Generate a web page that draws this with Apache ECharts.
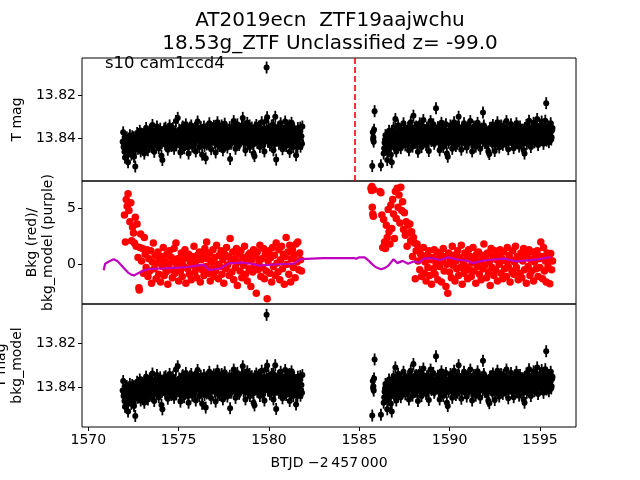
<!DOCTYPE html>
<html><head><meta charset="utf-8">
<script src="https://cdn.jsdelivr.net/npm/echarts@6/dist/echarts.min.js"></script>
<style>html,body{margin:0;padding:0;background:#fff}#c{width:640px;height:480px}</style>
</head><body><div id="c"></div>
<script>
// ---- data (BTJD - 2457000, T mag) ----
const tmagSeg1 = [[1571.90,13.8415],[1571.95,13.8440],[1572.00,13.8462],[1572.05,13.8398],[1572.10,13.8430],[1572.15,13.8475],[1572.20,13.8510],[1572.25,13.8420],[1572.30,13.8385],[1572.35,13.8452],[1572.40,13.8410],[1572.45,13.8468],[1572.50,13.8395],[1572.55,13.8438],[1572.60,13.8530],[1572.65,13.8402],[1572.70,13.8375],[1572.75,13.8448],[1572.80,13.8420],[1572.85,13.8365],[1572.90,13.8460],[1572.95,13.8412],[1573.00,13.8380],[1573.05,13.8435],[1573.10,13.8470],[1573.15,13.8398],[1573.20,13.8352],[1573.25,13.8425],[1573.30,13.8455],[1573.35,13.8390],[1573.40,13.8360],[1573.45,13.8418],[1573.50,13.8440],[1573.55,13.8338],[1573.60,13.8405],[1573.65,13.8462],[1573.70,13.8385],[1573.75,13.8420],[1573.80,13.8345],[1573.85,13.8398],[1573.90,13.8445],[1573.95,13.8372],[1574.00,13.8410],[1574.05,13.8480],[1574.10,13.8500],[1574.15,13.8392],[1574.20,13.8355],[1574.25,13.8428],[1574.30,13.8370],[1574.35,13.8415],[1574.40,13.8452],[1574.45,13.8380],[1574.50,13.8340],[1574.55,13.8405],[1574.60,13.8435],[1574.65,13.8362],[1574.70,13.8398],[1574.75,13.8448],[1574.80,13.8375],[1574.85,13.8320],[1574.90,13.8410],[1574.95,13.8305],[1575.00,13.8388],[1575.05,13.8430],[1575.10,13.8465],[1575.15,13.8372],[1575.20,13.8350],[1575.25,13.8412],[1575.30,13.8445],[1575.35,13.8380],[1575.40,13.8335],[1575.45,13.8398],[1575.50,13.8425],[1575.55,13.8470],[1575.60,13.8365],[1575.65,13.8402],[1575.70,13.8340],[1575.75,13.8438],[1575.80,13.8385],[1575.85,13.8415],[1575.90,13.8352],[1575.95,13.8460],[1576.00,13.8395],[1576.05,13.8322],[1576.10,13.8408],[1576.15,13.8440],[1576.20,13.8370],[1576.25,13.8418],[1576.30,13.8475],[1576.35,13.8385],[1576.40,13.8345],[1576.45,13.8400],[1576.50,13.8492],[1576.55,13.8428],[1576.60,13.8362],[1576.65,13.8395],[1576.70,13.8330],[1576.75,13.8415],[1576.80,13.8450],[1576.85,13.8378],[1576.90,13.8405],[1576.95,13.8342],[1577.00,13.8420],[1577.05,13.8465],[1577.10,13.8388],[1577.15,13.8325],[1577.20,13.8398],[1577.25,13.8435],[1577.30,13.8372],[1577.35,13.8410],[1577.40,13.8348],[1577.45,13.8455],[1577.50,13.8390],[1577.55,13.8332],[1577.60,13.8415],[1577.65,13.8378],[1577.70,13.8442],[1577.75,13.8360],[1577.80,13.8400],[1577.85,13.8495],[1577.90,13.8425],[1577.95,13.8355],[1578.00,13.8388],[1578.05,13.8320],[1578.10,13.8410],[1578.15,13.8448],[1578.20,13.8370],[1578.25,13.8335],[1578.30,13.8402],[1578.35,13.8430],[1578.40,13.8362],[1578.45,13.8395],[1578.50,13.8340],[1578.55,13.8305],[1578.60,13.8418],[1578.65,13.8375],[1578.70,13.8455],[1578.75,13.8388],[1578.80,13.8328],[1578.85,13.8405],[1578.90,13.8362],[1578.95,13.8440],[1579.00,13.8395],[1579.05,13.8350],[1579.10,13.8412],[1579.15,13.8470],[1579.20,13.8482],[1579.25,13.8380],[1579.30,13.8338],[1579.35,13.8420],[1579.40,13.8365],[1579.45,13.8398],[1579.50,13.8440],[1579.55,13.8355],[1579.60,13.8325],[1579.65,13.8408],[1579.70,13.8375],[1579.75,13.8460],[1579.80,13.8390],[1579.85,13.8318],[1579.87,13.8072],[1579.90,13.8302],[1579.95,13.8415],[1580.00,13.8368],[1580.05,13.8432],[1580.10,13.8385],[1580.15,13.8340],[1580.20,13.8410],[1580.25,13.8455],[1580.30,13.8372],[1580.35,13.8300],[1580.40,13.8498],[1580.45,13.8395],[1580.50,13.8350],[1580.55,13.8425],[1580.60,13.8378],[1580.65,13.8330],[1580.70,13.8412],[1580.75,13.8450],[1580.80,13.8365],[1580.85,13.8398],[1580.90,13.8322],[1580.95,13.8435],[1581.00,13.8380],[1581.05,13.8345],[1581.10,13.8418],[1581.15,13.8462],[1581.20,13.8370],[1581.25,13.8328],[1581.30,13.8405],[1581.35,13.8440],[1581.40,13.8358],[1581.45,13.8395],[1581.50,13.8478],[1581.55,13.8422],[1581.60,13.8352],[1581.65,13.8410],[1581.70,13.8375],[1581.75,13.8438],[1581.80,13.8390],[1581.85,13.8345]];
const tmagSeg1b = [[1571.93,13.8372],[1571.98,13.8425],[1572.03,13.8488],[1572.08,13.8452],[1572.13,13.8395],[1572.18,13.8440],[1572.23,13.8462],[1572.28,13.8408],[1572.33,13.8430],[1572.38,13.8475],[1572.43,13.8390],[1572.48,13.8422],[1572.53,13.8485],[1572.58,13.8415],[1572.63,13.8450],[1572.68,13.8398],[1572.73,13.8420],[1572.78,13.8382],[1572.83,13.8440],[1572.88,13.8405],[1572.93,13.8378],[1572.98,13.8428],[1573.03,13.8395],[1573.08,13.8415],[1573.13,13.8368],[1573.18,13.8440],[1573.23,13.8392],[1573.28,13.8375],[1573.33,13.8420],[1573.38,13.8402],[1573.43,13.8365],[1573.48,13.8395],[1573.53,13.8412],[1573.58,13.8430],[1573.63,13.8380],[1573.68,13.8415],[1573.73,13.8362],[1573.78,13.8398],[1573.83,13.8425],[1573.88,13.8388],[1573.93,13.8408],[1573.98,13.8355],[1574.03,13.8392],[1574.08,13.8420],[1574.13,13.8375],[1574.18,13.8405],[1574.23,13.8388],[1574.28,13.8350],[1574.33,13.8398],[1574.38,13.8418],[1574.43,13.8365],[1574.48,13.8392],[1574.53,13.8425],[1574.58,13.8378],[1574.63,13.8400],[1574.68,13.8352],[1574.73,13.8415],[1574.78,13.8390],[1574.83,13.8368],[1574.88,13.8432],[1574.93,13.8382],[1574.98,13.8405],[1575.03,13.8360],[1575.08,13.8395],[1575.13,13.8420],[1575.18,13.8388],[1575.23,13.8345],[1575.28,13.8402],[1575.33,13.8375],[1575.38,13.8418],[1575.43,13.8362],[1575.48,13.8390],[1575.53,13.8440],[1575.58,13.8395],[1575.63,13.8350],[1575.68,13.8412],[1575.73,13.8380],[1575.78,13.8358],[1575.83,13.8400],[1575.88,13.8425],[1575.93,13.8372],[1575.98,13.8345],[1576.03,13.8390],[1576.08,13.8365],[1576.13,13.8412],[1576.18,13.8395],[1576.23,13.8348],[1576.28,13.8420],[1576.33,13.8372],[1576.38,13.8398],[1576.43,13.8435],[1576.48,13.8378],[1576.53,13.8355],[1576.58,13.8405],[1576.63,13.8425],[1576.68,13.8382],[1576.73,13.8360],[1576.78,13.8398],[1576.83,13.8415],[1576.88,13.8352],[1576.93,13.8388],[1576.98,13.8372],[1577.03,13.8410],[1577.08,13.8345],[1577.13,13.8395],[1577.18,13.8428],[1577.23,13.8365],[1577.28,13.8402],[1577.33,13.8385],[1577.38,13.8340],[1577.43,13.8412],[1577.48,13.8368],[1577.53,13.8395],[1577.58,13.8430],[1577.63,13.8352],[1577.68,13.8390],[1577.73,13.8405],[1577.78,13.8372],[1577.83,13.8348],[1577.88,13.8395],[1577.93,13.8418],[1577.98,13.8365],[1578.03,13.8400],[1578.08,13.8380],[1578.13,13.8342],[1578.18,13.8412],[1578.23,13.8388],[1578.28,13.8360],[1578.33,13.8395],[1578.38,13.8422],[1578.43,13.8375],[1578.48,13.8405],[1578.53,13.8352],[1578.58,13.8385],[1578.63,13.8345],[1578.68,13.8410],[1578.73,13.8368],[1578.78,13.8398],[1578.83,13.8425],[1578.88,13.8380],[1578.93,13.8340],[1578.98,13.8402],[1579.03,13.8372],[1579.08,13.8392],[1579.13,13.8428],[1579.18,13.8365],[1579.23,13.8350],[1579.28,13.8405],[1579.33,13.8385],[1579.38,13.8418],[1579.43,13.8345],[1579.48,13.8378],[1579.53,13.8402],[1579.58,13.8368],[1579.63,13.8390],[1579.68,13.8430],[1579.73,13.8355],[1579.78,13.8412],[1579.83,13.8372],[1579.93,13.8392],[1579.98,13.8348],[1580.03,13.8405],[1580.08,13.8365],[1580.13,13.8420],[1580.18,13.8380],[1580.23,13.8338],[1580.28,13.8398],[1580.33,13.8425],[1580.38,13.8360],[1580.43,13.8410],[1580.48,13.8375],[1580.53,13.8395],[1580.58,13.8345],[1580.63,13.8418],[1580.68,13.8382],[1580.73,13.8358],[1580.78,13.8400],[1580.83,13.8432],[1580.88,13.8370],[1580.93,13.8392],[1580.98,13.8348],[1581.03,13.8410],[1581.08,13.8385],[1581.13,13.8340],[1581.18,13.8402],[1581.23,13.8428],[1581.28,13.8368],[1581.33,13.8390],[1581.38,13.8352],[1581.43,13.8415],[1581.48,13.8378],[1581.53,13.8398],[1581.58,13.8440],[1581.63,13.8365],[1581.68,13.8392],[1581.73,13.8350],[1581.78,13.8412],[1581.83,13.8425]];
const tmagSeg2 = [[1585.72,13.8528],[1585.75,13.8372],[1585.78,13.8395],[1585.80,13.8415],[1585.82,13.8360],[1585.85,13.8274],[1586.20,13.8524],[1586.35,13.8470],[1586.40,13.8420],[1586.45,13.8385],[1586.50,13.8450],[1586.55,13.8500],[1586.60,13.8405],[1586.65,13.8365],[1586.70,13.8432],[1586.75,13.8475],[1586.80,13.8510],[1586.85,13.8390],[1586.90,13.8350],[1586.95,13.8418],[1587.00,13.8310],[1587.05,13.8460],[1587.10,13.8395],[1587.15,13.8340],[1587.20,13.8425],[1587.25,13.8378],[1587.30,13.8445],[1587.35,13.8360],[1587.40,13.8408],[1587.45,13.8330],[1587.50,13.8390],[1587.55,13.8432],[1587.60,13.8365],[1587.65,13.8412],[1587.70,13.8350],[1587.75,13.8455],[1587.80,13.8380],[1587.85,13.8325],[1587.90,13.8402],[1587.95,13.8438],[1588.00,13.8295],[1588.05,13.8372],[1588.10,13.8410],[1588.15,13.8345],[1588.20,13.8420],[1588.25,13.8462],[1588.30,13.8385],[1588.35,13.8330],[1588.40,13.8398],[1588.45,13.8440],[1588.50,13.8362],[1588.55,13.8315],[1588.60,13.8405],[1588.65,13.8378],[1588.70,13.8430],[1588.75,13.8350],[1588.80,13.8395],[1588.85,13.8458],[1588.90,13.8368],[1588.95,13.8320],[1589.00,13.8412],[1589.05,13.8375],[1589.10,13.8335],[1589.15,13.8425],[1589.25,13.8260],[1589.30,13.8385],[1589.35,13.8348],[1589.40,13.8418],[1589.45,13.8455],[1589.50,13.8370],[1589.55,13.8328],[1589.60,13.8402],[1589.65,13.8440],[1589.70,13.8362],[1589.75,13.8395],[1589.80,13.8335],[1589.85,13.8470],[1589.90,13.8485],[1589.95,13.8420],[1590.00,13.8378],[1590.05,13.8340],[1590.10,13.8410],[1590.15,13.8448],[1590.20,13.8365],[1590.25,13.8325],[1590.30,13.8400],[1590.35,13.8435],[1590.40,13.8372],[1590.45,13.8345],[1590.50,13.8300],[1590.55,13.8415],[1590.60,13.8388],[1590.65,13.8452],[1590.70,13.8360],[1590.75,13.8398],[1590.80,13.8330],[1590.85,13.8425],[1590.90,13.8375],[1590.95,13.8442],[1591.00,13.8350],[1591.05,13.8405],[1591.10,13.8368],[1591.15,13.8320],[1591.20,13.8418],[1591.25,13.8460],[1591.30,13.8385],[1591.35,13.8345],[1591.40,13.8400],[1591.45,13.8438],[1591.50,13.8362],[1591.55,13.8328],[1591.60,13.8410],[1591.65,13.8375],[1591.70,13.8448],[1591.75,13.8355],[1591.80,13.8392],[1591.85,13.8280],[1591.90,13.8340],[1591.95,13.8420],[1592.00,13.8370],[1592.05,13.8435],[1592.10,13.8385],[1592.15,13.8462],[1592.20,13.8472],[1592.25,13.8402],[1592.30,13.8350],[1592.35,13.8415],[1592.40,13.8338],[1592.45,13.8380],[1592.50,13.8458],[1592.55,13.8425],[1592.60,13.8365],[1592.65,13.8325],[1592.70,13.8408],[1592.75,13.8442],[1592.80,13.8372],[1592.85,13.8340],[1592.90,13.8398],[1592.95,13.8430],[1593.00,13.8355],[1593.05,13.8412],[1593.10,13.8378],[1593.15,13.8320],[1593.20,13.8405],[1593.25,13.8450],[1593.30,13.8368],[1593.35,13.8395],[1593.40,13.8335],[1593.45,13.8422],[1593.50,13.8380],[1593.55,13.8445],[1593.60,13.8358],[1593.65,13.8400],[1593.70,13.8330],[1593.75,13.8415],[1593.80,13.8372],[1593.85,13.8438],[1593.90,13.8345],[1593.95,13.8392],[1594.00,13.8425],[1594.05,13.8360],[1594.10,13.8455],[1594.15,13.8470],[1594.20,13.8398],[1594.25,13.8338],[1594.30,13.8410],[1594.35,13.8375],[1594.40,13.8318],[1594.45,13.8402],[1594.50,13.8440],[1594.55,13.8365],[1594.60,13.8395],[1594.65,13.8328],[1594.70,13.8418],[1594.75,13.8355],[1594.80,13.8385],[1594.85,13.8310],[1594.90,13.8430],[1594.95,13.8370],[1595.00,13.8340],[1595.05,13.8405],[1595.10,13.8322],[1595.15,13.8390],[1595.20,13.8425],[1595.25,13.8355],[1595.30,13.8318],[1595.35,13.8237],[1595.40,13.8398],[1595.45,13.8345],[1595.50,13.8418],[1595.55,13.8365],[1595.60,13.8330],[1595.65,13.8395],[1595.70,13.8352]];
const tmagSeg2b = [[1585.77,13.8405],[1586.38,13.8445],[1586.43,13.8405],[1586.48,13.8428],[1586.53,13.8392],[1586.58,13.8460],[1586.63,13.8418],[1586.68,13.8380],[1586.73,13.8440],[1586.78,13.8412],[1586.83,13.8365],[1586.88,13.8425],[1586.93,13.8392],[1586.98,13.8445],[1587.03,13.8372],[1587.08,13.8415],[1587.13,13.8388],[1587.18,13.8430],[1587.23,13.8355],[1587.28,13.8402],[1587.33,13.8420],[1587.38,13.8378],[1587.43,13.8395],[1587.48,13.8418],[1587.53,13.8362],[1587.58,13.8398],[1587.63,13.8380],[1587.68,13.8422],[1587.73,13.8370],[1587.78,13.8405],[1587.83,13.8348],[1587.88,13.8390],[1587.93,13.8412],[1587.98,13.8365],[1588.03,13.8395],[1588.08,13.8350],[1588.13,13.8420],[1588.18,13.8378],[1588.23,13.8400],[1588.28,13.8355],[1588.33,13.8412],[1588.38,13.8372],[1588.43,13.8390],[1588.48,13.8425],[1588.53,13.8345],[1588.58,13.8385],[1588.63,13.8410],[1588.68,13.8362],[1588.73,13.8395],[1588.78,13.8418],[1588.83,13.8350],[1588.88,13.8388],[1588.93,13.8405],[1588.98,13.8370],[1589.03,13.8342],[1589.08,13.8398],[1589.13,13.8380],[1589.18,13.8415],[1589.22,13.8365],[1589.28,13.8402],[1589.33,13.8375],[1589.38,13.8352],[1589.43,13.8395],[1589.48,13.8425],[1589.53,13.8360],[1589.58,13.8388],[1589.63,13.8410],[1589.68,13.8345],[1589.73,13.8402],[1589.78,13.8378],[1589.83,13.8420],[1589.88,13.8395],[1589.93,13.8365],[1589.98,13.8405],[1590.03,13.8385],[1590.08,13.8350],[1590.13,13.8412],[1590.18,13.8392],[1590.23,13.8372],[1590.28,13.8418],[1590.33,13.8355],[1590.38,13.8398],[1590.43,13.8425],[1590.48,13.8368],[1590.53,13.8348],[1590.58,13.8402],[1590.63,13.8380],[1590.68,13.8415],[1590.73,13.8352],[1590.78,13.8390],[1590.83,13.8408],[1590.88,13.8362],[1590.93,13.8395],[1590.98,13.8378],[1591.03,13.8345],[1591.08,13.8410],[1591.13,13.8388],[1591.18,13.8365],[1591.23,13.8400],[1591.28,13.8422],[1591.33,13.8355],[1591.38,13.8392],[1591.43,13.8372],[1591.48,13.8405],[1591.53,13.8345],[1591.58,13.8385],[1591.63,13.8418],[1591.68,13.8360],[1591.73,13.8398],[1591.78,13.8375],[1591.83,13.8412],[1591.88,13.8350],[1591.93,13.8392],[1591.98,13.8408],[1592.03,13.8365],[1592.08,13.8395],[1592.13,13.8420],[1592.18,13.8378],[1592.23,13.8352],[1592.28,13.8402],[1592.33,13.8385],[1592.38,13.8428],[1592.43,13.8360],[1592.48,13.8398],[1592.53,13.8375],[1592.58,13.8412],[1592.63,13.8348],[1592.68,13.8390],[1592.73,13.8405],[1592.78,13.8362],[1592.83,13.8395],[1592.88,13.8418],[1592.93,13.8370],[1592.98,13.8345],[1593.03,13.8400],[1593.08,13.8385],[1593.13,13.8422],[1593.18,13.8358],[1593.23,13.8392],[1593.28,13.8408],[1593.33,13.8372],[1593.38,13.8395],[1593.43,13.8350],[1593.48,13.8412],[1593.53,13.8380],[1593.58,13.8398],[1593.63,13.8365],[1593.68,13.8420],[1593.73,13.8375],[1593.78,13.8345],[1593.83,13.8402],[1593.88,13.8388],[1593.93,13.8415],[1593.98,13.8360],[1594.03,13.8395],[1594.08,13.8378],[1594.13,13.8410],[1594.18,13.8352],[1594.23,13.8392],[1594.28,13.8425],[1594.33,13.8365],[1594.38,13.8388],[1594.43,13.8348],[1594.48,13.8405],[1594.53,13.8380],[1594.58,13.8415],[1594.63,13.8358],[1594.68,13.8392],[1594.73,13.8372],[1594.78,13.8408],[1594.83,13.8345],[1594.88,13.8385],[1594.93,13.8400],[1594.98,13.8362],[1595.03,13.8378],[1595.08,13.8352],[1595.13,13.8395],[1595.18,13.8368],[1595.23,13.8340],[1595.28,13.8385],[1595.33,13.8360],[1595.38,13.8410],[1595.43,13.8372],[1595.48,13.8350],[1595.53,13.8392],[1595.58,13.8375],[1595.63,13.8405],[1595.68,13.8362]];
const bkgSeg1 = [[1572.00,4.4],[1572.05,2.0],[1572.10,5.8],[1572.15,5.2],[1572.20,6.3],[1572.25,4.8],[1572.30,3.8],[1572.35,5.5],[1572.40,2.1],[1572.45,3.3],[1572.50,2.8],[1572.55,1.9],[1572.60,4.2],[1572.65,1.6],[1572.70,3.6],[1572.75,0.6],[1572.80,-2.1],[1572.82,-2.3],[1572.85,1.5],[1572.90,2.7],[1572.95,0.3],[1573.00,1.4],[1573.05,-0.8],[1573.10,2.4],[1573.15,0.9],[1573.20,-0.3],[1573.25,1.3],[1573.30,-1.1],[1573.35,0.5],[1573.40,-0.6],[1573.45,1.2],[1573.50,-1.7],[1573.55,0.2],[1573.60,1.9],[1573.65,-0.4],[1573.70,0.8],[1573.75,-1.3],[1573.80,0.1],[1573.85,1.1],[1573.90,-0.9],[1573.95,0.4],[1574.00,-1.6],[1574.05,0.7],[1574.10,-0.2],[1574.15,1.5],[1574.20,-1.0],[1574.25,0.3],[1574.30,-0.7],[1574.35,0.9],[1574.40,-1.8],[1574.45,0.0],[1574.50,1.2],[1574.55,-0.5],[1574.60,0.6],[1574.65,-1.2],[1574.70,0.2],[1574.75,1.4],[1574.80,-0.8],[1574.85,1.9],[1574.90,-0.3],[1574.95,0.5],[1575.00,-1.5],[1575.05,0.1],[1575.10,-0.6],[1575.15,1.0],[1575.20,-1.1],[1575.25,0.4],[1575.30,-0.2],[1575.35,1.3],[1575.40,-1.7],[1575.45,0.6],[1575.50,-0.4],[1575.55,0.9],[1575.60,-0.9],[1575.65,0.2],[1575.70,-1.4],[1575.75,0.7],[1575.80,-0.1],[1575.85,1.6],[1575.90,-0.7],[1575.95,0.3],[1576.00,-1.2],[1576.05,0.8],[1576.10,-0.3],[1576.15,1.1],[1576.20,-1.6],[1576.25,0.4],[1576.30,-0.5],[1576.35,0.9],[1576.40,-1.0],[1576.45,1.4],[1576.50,-0.2],[1576.55,2.0],[1576.60,0.5],[1576.65,-0.8],[1576.70,1.0],[1576.75,-1.5],[1576.80,0.2],[1576.85,-0.4],[1576.90,1.3],[1576.95,-1.1],[1577.00,0.6],[1577.05,-0.6],[1577.10,1.7],[1577.15,0.0],[1577.20,-1.3],[1577.25,0.8],[1577.30,-0.2],[1577.35,1.2],[1577.40,-0.9],[1577.45,0.4],[1577.50,-1.7],[1577.55,0.9],[1577.60,-0.4],[1577.65,1.5],[1577.70,-0.1],[1577.75,0.7],[1577.80,-1.0],[1577.85,2.3],[1577.90,0.3],[1577.95,-0.7],[1578.00,1.1],[1578.05,-1.4],[1578.10,0.5],[1578.15,-0.3],[1578.20,1.4],[1578.25,-1.9],[1578.30,0.2],[1578.35,0.9],[1578.40,-0.6],[1578.45,1.2],[1578.50,-1.2],[1578.55,0.6],[1578.60,-0.1],[1578.65,1.6],[1578.70,-0.9],[1578.75,0.3],[1578.80,-1.5],[1578.85,0.8],[1578.90,-0.4],[1578.95,1.0],[1579.00,-2.0],[1579.05,0.4],[1579.10,-0.7],[1579.15,1.3],[1579.20,-0.2],[1579.25,0.7],[1579.30,-2.6],[1579.35,1.1],[1579.40,-0.5],[1579.45,0.2],[1579.50,1.7],[1579.55,-1.1],[1579.60,0.5],[1579.65,-0.3],[1579.70,1.4],[1579.75,-1.3],[1579.80,0.9],[1579.85,-0.6],[1579.90,-3.1],[1579.95,0.3],[1580.00,1.2],[1580.05,-0.8],[1580.10,0.6],[1580.15,-1.6],[1580.20,1.5],[1580.25,-0.2],[1580.30,0.8],[1580.35,-1.0],[1580.40,1.9],[1580.45,0.1],[1580.50,-0.7],[1580.55,1.3],[1580.60,-1.4],[1580.65,0.4],[1580.70,1.6],[1580.75,-0.4],[1580.80,0.9],[1580.85,-1.8],[1580.90,0.7],[1580.95,2.4],[1581.00,0.0],[1581.05,1.1],[1581.10,-0.9],[1581.15,1.7],[1581.20,-1.6],[1581.25,0.5],[1581.30,1.3],[1581.35,-0.3],[1581.40,0.8],[1581.45,-1.2],[1581.50,1.8],[1581.55,0.2],[1581.60,2.0],[1581.65,-0.5],[1581.70,1.0],[1581.75,0.4],[1581.80,-0.6]];
const bkgSeg2 = [[1585.65,6.8],[1585.68,6.6],[1585.70,6.95],[1585.72,5.1],[1585.75,4.5],[1585.78,4.3],[1585.80,6.7],[1586.15,6.5],[1586.20,6.4],[1586.25,4.4],[1586.30,1.5],[1586.35,4.0],[1586.40,2.0],[1586.45,1.4],[1586.50,3.5],[1586.55,2.4],[1586.60,4.9],[1586.65,2.9],[1586.70,1.8],[1586.75,5.3],[1586.80,3.2],[1586.85,5.8],[1586.90,4.5],[1586.95,2.3],[1587.00,6.5],[1587.05,4.1],[1587.10,6.8],[1587.15,5.1],[1587.20,6.2],[1587.25,3.7],[1587.30,6.9],[1587.35,4.8],[1587.40,5.6],[1587.45,3.1],[1587.50,4.6],[1587.55,2.6],[1587.60,3.8],[1587.65,1.6],[1587.70,3.5],[1587.75,2.8],[1587.80,3.6],[1587.85,2.1],[1587.90,2.9],[1587.95,0.7],[1588.00,2.4],[1588.05,1.9],[1588.10,-1.3],[1588.15,1.2],[1588.20,1.8],[1588.25,0.3],[1588.30,1.4],[1588.35,-0.5],[1588.40,0.9],[1588.45,-1.1],[1588.50,0.5],[1588.55,1.5],[1588.60,-0.8],[1588.65,0.2],[1588.70,-1.5],[1588.75,0.8],[1588.80,-0.3],[1588.85,1.2],[1588.90,-1.0],[1588.95,0.4],[1589.00,-1.8],[1589.05,0.6],[1589.10,-0.4],[1589.15,1.3],[1589.20,-0.9],[1589.25,0.1],[1589.30,1.1],[1589.35,-1.4],[1589.40,0.5],[1589.45,-0.2],[1589.50,0.9],[1589.55,-1.6],[1589.60,0.3],[1589.65,1.4],[1589.70,-0.6],[1589.75,0.7],[1589.80,-2.0],[1589.85,0.0],[1589.90,-2.6],[1589.95,1.0],[1590.00,-0.7],[1590.05,0.4],[1590.10,-1.2],[1590.15,1.6],[1590.20,-0.1],[1590.25,0.8],[1590.30,-1.5],[1590.35,0.3],[1590.40,-0.4],[1590.45,1.2],[1590.50,-1.0],[1590.55,0.6],[1590.60,-0.3],[1590.65,1.7],[1590.70,-1.8],[1590.75,0.2],[1590.80,-0.8],[1590.85,1.0],[1590.90,-0.2],[1590.95,0.5],[1591.00,-1.3],[1591.05,1.3],[1591.10,-0.5],[1591.15,0.7],[1591.20,-1.1],[1591.25,0.1],[1591.30,1.5],[1591.35,-0.6],[1591.40,0.4],[1591.45,-1.7],[1591.50,0.9],[1591.55,-0.2],[1591.60,1.1],[1591.65,-0.9],[1591.70,0.3],[1591.75,-1.4],[1591.80,0.8],[1591.85,-0.4],[1591.90,1.8],[1591.95,-0.1],[1592.00,0.6],[1592.05,-1.2],[1592.10,1.0],[1592.15,-0.7],[1592.20,0.2],[1592.25,-1.9],[1592.30,1.4],[1592.35,-0.3],[1592.40,0.7],[1592.45,-1.0],[1592.50,1.2],[1592.55,-0.5],[1592.60,0.4],[1592.65,-1.5],[1592.70,0.9],[1592.75,0.0],[1592.80,1.3],[1592.85,-0.8],[1592.90,0.5],[1592.95,-1.3],[1593.00,1.1],[1593.05,-0.4],[1593.10,0.3],[1593.15,-1.1],[1593.20,1.5],[1593.25,-0.2],[1593.30,0.8],[1593.35,-1.6],[1593.40,0.4],[1593.45,-0.6],[1593.50,1.2],[1593.55,-0.9],[1593.60,0.2],[1593.65,1.6],[1593.70,-0.3],[1593.75,0.7],[1593.80,-1.4],[1593.85,0.5],[1593.90,-0.8],[1593.95,1.0],[1594.00,-1.2],[1594.05,0.3],[1594.10,1.4],[1594.15,-0.5],[1594.20,0.6],[1594.25,-1.7],[1594.30,0.9],[1594.35,-0.2],[1594.40,1.3],[1594.45,-1.0],[1594.50,0.4],[1594.55,-0.6],[1594.60,1.1],[1594.65,-1.5],[1594.70,0.2],[1594.75,0.8],[1594.80,-0.4],[1594.85,1.2],[1594.90,-1.1],[1594.95,0.5],[1595.00,-0.3],[1595.05,2.0],[1595.10,0.7],[1595.15,-1.3],[1595.20,1.5],[1595.25,-0.6],[1595.30,0.3],[1595.35,-1.6],[1595.40,1.0],[1595.45,-0.2],[1595.50,0.6],[1595.55,-1.75],[1595.60,0.96],[1595.65,-0.5],[1595.70,0.3]];
const bkgModel = [[1570.85,-0.54],[1570.92,-0.52],[1570.93,0.05],[1571.00,0.1],[1571.05,0.15],[1571.2,0.3],[1571.4,0.45],[1571.6,0.3],[1571.8,-0.05],[1572.0,-0.4],[1572.2,-0.75],[1572.4,-0.95],[1572.55,-1.0],[1572.7,-0.85],[1572.9,-0.7],[1573.1,-0.55],[1573.3,-0.45],[1573.6,-0.42],[1574.0,-0.38],[1574.5,-0.34],[1575.0,-0.3],[1575.5,-0.25],[1576.0,-0.12],[1576.4,-0.05],[1576.55,-0.3],[1576.7,-0.5],[1577.0,-0.45],[1577.3,-0.38],[1577.6,-0.1],[1577.8,0.1],[1578.2,0.12],[1578.5,0.15],[1579.0,0.05],[1579.5,-0.12],[1580.0,-0.05],[1580.5,0.0],[1581.0,0.03],[1581.4,0.06],[1581.6,0.3],[1581.75,0.45],[1581.85,0.55],[1583.0,0.55],[1584.7,0.55],[1584.75,0.42],[1584.85,0.5],[1585.0,0.62],[1585.3,0.62],[1585.5,0.35],[1585.65,0.1],[1585.9,-0.25],[1586.2,-0.45],[1586.4,-0.35],[1586.6,-0.15],[1586.9,0.45],[1587.1,0.1],[1587.4,0.3],[1587.7,0.05],[1588.0,0.25],[1588.3,0.15],[1588.6,0.5],[1589.0,0.55],[1589.5,0.38],[1589.9,0.62],[1590.5,0.4],[1591.0,0.3],[1591.3,0.1],[1591.8,0.3],[1592.3,0.4],[1593.0,0.5],[1593.7,0.25],[1594.3,0.35],[1595.0,0.45],[1595.6,0.65]];
const xTicks = [1570, 1575, 1580, 1585, 1590, 1595];
const magTicks = [13.82, 13.84];
const bkgTicks = [0, 5];
const gapLineX = 1584.75;

const tmagAll = tmagSeg1.concat(tmagSeg1b, tmagSeg2, tmagSeg2b);
const bkgAll = bkgSeg1.concat(bkgSeg2);
const FONT = 'DejaVu Sans';
const XMIN = 1569.65, XMAX = 1597.0;

function xAxisCfg(i, showLabels) {
  return {
    type: 'value', gridIndex: i, min: XMIN, max: XMAX,
    axisLine: {show: false}, splitLine: {show: false},
    axisTick: {show: showLabels, customValues: xTicks, length: 4, lineStyle: {color: '#000', width: 1}},
    axisLabel: {show: showLabels, customValues: xTicks, formatter: v => String(v), color: '#000', fontSize: 14, fontFamily: FONT, margin: 6},
    name: showLabels ? 'BTJD \u22122\u2009457\u2009000' : '',
    nameLocation: 'middle', nameGap: 29,
    nameTextStyle: {color: '#000', fontSize: 14, fontFamily: FONT}
  };
}
function yAxisCfg(i, min, max, inverse, ticks, name, gap) {
  return {
    type: 'value', gridIndex: i, min: min, max: max, inverse: inverse,
    axisLine: {show: false}, splitLine: {show: false},
    axisTick: {show: true, customValues: ticks, length: 4, lineStyle: {color: '#000', width: 1}},
    axisLabel: {customValues: ticks, formatter: v => String(v), color: '#000', fontSize: 14, fontFamily: FONT, margin: 6},
    name: name, nameLocation: 'middle', nameGap: gap, nameRotate: 90,
    nameTextStyle: {color: '#000', fontSize: 14, fontFamily: FONT, lineHeight: 16}
  };
}

const chart = echarts.init(document.getElementById('c'), null, {renderer: 'canvas'});
const errStyle = {symbol: 'rect', symbolSize: [1.8, 12], itemStyle: {color: '#000', opacity: 1}};
const dotStyle = {symbol: 'circle', symbolSize: 6, itemStyle: {color: '#000', opacity: 1}};
const gridBase = {left: 82, width: 494, height: 123, show: true, borderColor: '#000', borderWidth: 1, backgroundColor: 'transparent', outerBoundsMode: 'none', containLabel: false};
chart.setOption({
  animation: false,
  backgroundColor: '#fff',
  title: {
    text: 'AT2019ecn  ZTF19aajwchu\n18.53g_ZTF Unclassified z= -99.0',
    left: 325, top: 4, textAlign: 'center',
    textStyle: {fontSize: 20, fontWeight: 'normal', color: '#000', fontFamily: FONT, lineHeight: 23}
  },
  graphic: [{type: 'text', left: 105, top: 55, style: {text: 's10 cam1ccd4', fontSize: 16.5, fontFamily: FONT, fill: '#000'}, z: 100}],
  grid: [
    Object.assign({top: 58}, gridBase),
    Object.assign({top: 181}, gridBase),
    Object.assign({top: 304}, gridBase)
  ],
  xAxis: [xAxisCfg(0, false), xAxisCfg(1, false), xAxisCfg(2, true)],
  yAxis: [
    yAxisCfg(0, 13.8028, 13.8597, true, magTicks, 'T mag', 57),
    yAxisCfg(1, -3.56, 7.45, false, bkgTicks, 'Bkg (red)/\nbkg_model (purple)', 26),
    yAxisCfg(2, 13.8023, 13.858, true, magTicks, 'T mag\nbkg_model', 57)
  ],
  series: [
    Object.assign({type: 'scatter', xAxisIndex: 0, yAxisIndex: 0, data: tmagAll, silent: true}, errStyle),
    Object.assign({type: 'scatter', xAxisIndex: 0, yAxisIndex: 0, data: tmagAll, silent: true,
      markLine: {silent: true, symbol: ['none', 'none'], label: {show: false},
        lineStyle: {color: '#ff0000', type: [6, 3], width: 1.6}, data: [{xAxis: gapLineX}]}}, dotStyle),
    {type: 'scatter', xAxisIndex: 1, yAxisIndex: 1, data: bkgAll, symbol: 'circle', symbolSize: 7.5, itemStyle: {color: '#ff0000', opacity: 1}, silent: true},
    {type: 'line', xAxisIndex: 1, yAxisIndex: 1, data: bkgModel, showSymbol: false, lineStyle: {color: '#bf00bf', width: 2.2}, z: 5, silent: true},
    Object.assign({type: 'scatter', xAxisIndex: 2, yAxisIndex: 2, data: tmagAll, silent: true}, errStyle),
    Object.assign({type: 'scatter', xAxisIndex: 2, yAxisIndex: 2, data: tmagAll, silent: true}, dotStyle)
  ]
});
</script></body></html>
